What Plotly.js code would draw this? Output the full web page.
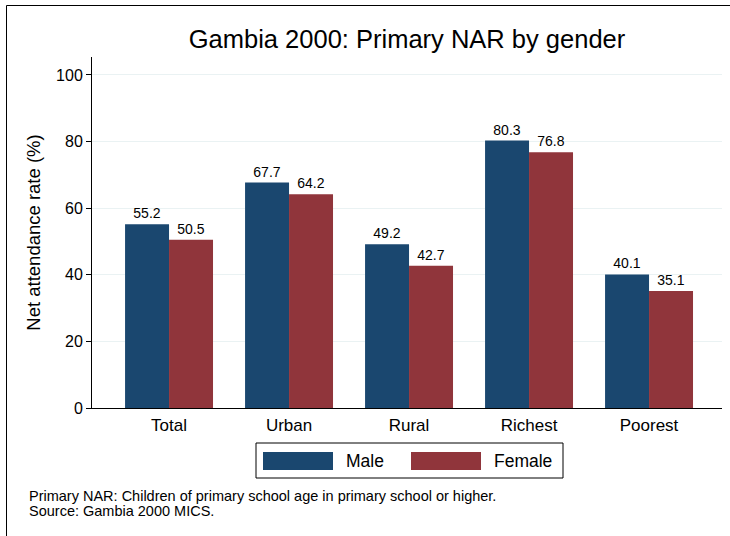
<!DOCTYPE html>
<html>
<head>
<meta charset="utf-8">
<script src="https://cdn.plot.ly/plotly-3.0.1.min.js"></script>
<style>html,body{margin:0;padding:0;background:#fff;}#chart{width:730px;height:536px;}</style>
</head>
<body>
<div id="chart"></div>
<script>
const categories = ["Total", "Urban", "Rural", "Richest", "Poorest"];
const maleValues = [55.2, 67.7, 49.2, 80.3, 40.1];
const femaleValues = [50.5, 64.2, 42.7, 76.8, 35.1];
const seriesNames = ["Male", "Female"];
const yTicks = [0, 20, 40, 60, 80, 100];
const titleText = "Gambia 2000: Primary NAR by gender";
const yTitle = "Net attendance rate (%)";
const noteLines = ["Primary NAR: Children of primary school age in primary school or higher.", "Source: Gambia 2000 MICS."];

const colors = ["#1a476f", "#90353b"];
const FONT = "Liberation Sans, Arial, sans-serif";
const W = 730, H = 536;
const L = 92, R = 8, T = 57, B = 128;
const PW = W - L - R, PH = H - T - B;
const px = x => (x - L) / PW;
const py = y => (H - B - y) / PH;

const fmt = v => v.toFixed(1);
const traces = [maleValues, femaleValues].map((vals, i) => ({
  type: "bar",
  name: seriesNames[i],
  x: categories,
  y: vals,
  text: vals.map(fmt),
  textposition: "outside",
  cliponaxis: false,
  textfont: {family: FONT, size: 14, color: "#000"},
  marker: {color: colors[i], line: {width: 0}},
  hoverinfo: "x+y",
  showlegend: false
}));

const shapes = [
  // outer frame (partially cropped)
  {type: "rect", xref: "paper", yref: "paper", x0: px(6.5), x1: px(2000), y0: py(2000), y1: py(5.5),
   line: {color: "#000", width: 1}, fillcolor: "rgba(0,0,0,0)", layer: "below"},
  // legend box
  {type: "rect", xref: "paper", yref: "paper", x0: px(256), x1: px(563), y0: py(478), y1: py(443),
   line: {color: "#000", width: 1}, fillcolor: "#fff"},
  {type: "rect", xref: "paper", yref: "paper", x0: px(263), x1: px(333), y0: py(470), y1: py(452),
   line: {width: 0}, fillcolor: colors[0]},
  {type: "rect", xref: "paper", yref: "paper", x0: px(411), x1: px(481), y0: py(470), y1: py(452),
   line: {width: 0}, fillcolor: colors[1]}
];

const annotations = [
  {xref: "paper", yref: "paper", x: px(344), y: py(461), xanchor: "left", yanchor: "middle",
   text: seriesNames[0], showarrow: false, font: {family: FONT, size: 17.5, color: "#000"}},
  {xref: "paper", yref: "paper", x: px(492), y: py(461), xanchor: "left", yanchor: "middle",
   text: seriesNames[1], showarrow: false, font: {family: FONT, size: 17.5, color: "#000"}},
  {xref: "paper", yref: "paper", x: px(27), y: py(496), xanchor: "left", yanchor: "middle", align: "left",
   text: noteLines[0], showarrow: false, font: {family: FONT, size: 14.5, color: "#000"}},
  {xref: "paper", yref: "paper", x: px(27), y: py(511), xanchor: "left", yanchor: "middle", align: "left",
   text: noteLines[1], showarrow: false, font: {family: FONT, size: 14.5, color: "#000"}}
];

const layout = {
  width: W, height: H,
  margin: {l: L, r: R, t: T, b: B, pad: 0},
  paper_bgcolor: "#fff", plot_bgcolor: "#fff",
  font: {family: FONT, color: "#000"},
  title: {text: titleText, font: {family: FONT, size: 25.5, color: "#000"}, x: 0.5, xref: "paper", y: 1 - 39 / H, yanchor: "middle"},
  barmode: "group",
  bargap: 0.267,
  bargroupgap: 0,
  showlegend: false,
  xaxis: {
    type: "category",
    range: [-0.642, 4.608],
    showline: true, linecolor: "#000", linewidth: 1,
    ticks: "", showgrid: false, zeroline: false,
    tickfont: {family: FONT, size: 17, color: "#000"},
    ticklabelstandoff: 2
  },
  yaxis: {
    range: [0, 105.4],
    tickvals: yTicks,
    ticktext: yTicks.map(String),
    showline: true, linecolor: "#000", linewidth: 1,
    ticks: "outside", ticklen: 5, tickcolor: "#000",
    showgrid: true, gridcolor: "#eaf2f3", gridwidth: 1,
    zeroline: false,
    tickfont: {family: FONT, size: 16, color: "#000"},
    title: {text: yTitle, font: {family: FONT, size: 18.5, color: "#000"}, standoff: 10}
  },
  shapes: shapes,
  annotations: annotations
};

Plotly.newPlot("chart", traces, layout, {displayModeBar: false, staticPlot: true});
</script>
</body>
</html>
